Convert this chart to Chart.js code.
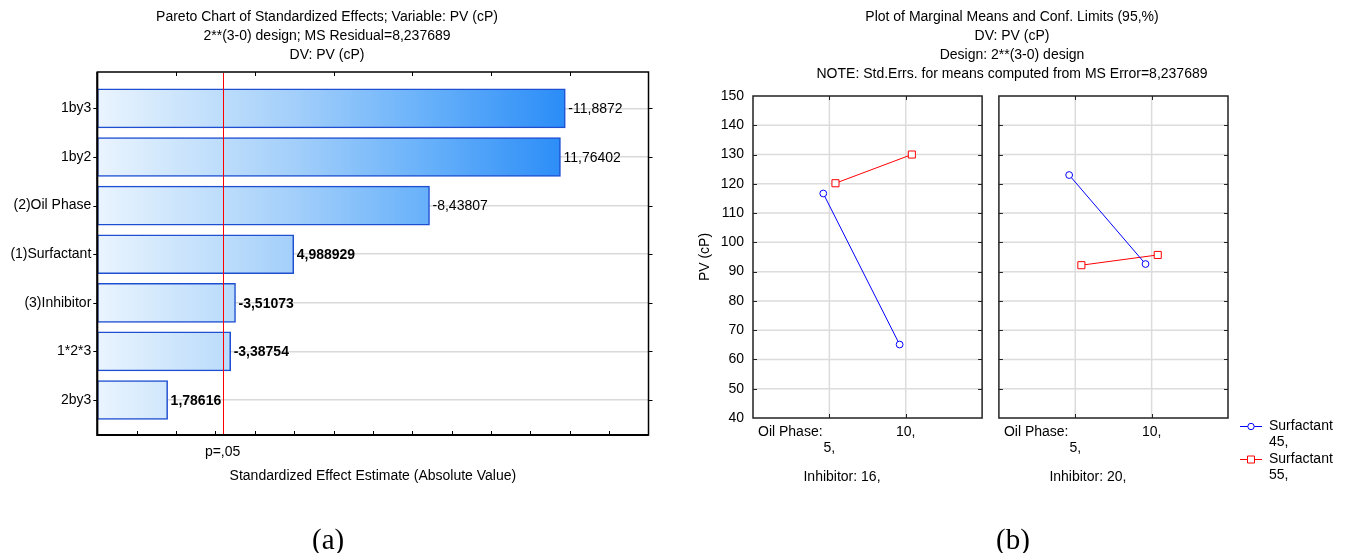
<!DOCTYPE html>
<html><head><meta charset="utf-8">
<script src="https://cdn.jsdelivr.net/npm/chart.js@4.4.1/dist/chart.umd.min.js"></script>
<style>
html,body{margin:0;padding:0;background:#fff;}
body{width:1348px;height:553px;position:relative;overflow:hidden;font-family:"Liberation Sans",Arial,sans-serif;}
canvas{position:absolute;top:0;}
#cL{left:0;}
#cR{left:674px;}
.cap{position:absolute;font-family:"Liberation Serif","Times New Roman",serif;font-size:29px;top:522px;line-height:34px;color:#000;}
</style></head><body>
<canvas id="cL" width="674" height="553"></canvas>
<canvas id="cR" width="674" height="553"></canvas>
<div class="cap" style="left:312px">(a)</div>
<div class="cap" style="left:996px">(b)</div>
<script>
// ---------- data: Pareto chart ----------
const effectLabels = ['1by3', '1by2', '(2)Oil Phase', '(1)Surfactant', '(3)Inhibitor', '1*2*3', '2by3'];
const effectValues = [-11.8872, 11.76402, -8.43807, 4.988929, -3.51073, -3.38754, 1.78616];
const effectBold = [false, false, false, true, true, true, true];
const pCritical = 3.182446;
const pCriticalLabel = 'p=,05';
const paretoTitle = ['Pareto Chart of Standardized Effects; Variable: PV (cP)', '2**(3-0) design; MS Residual=8,237689', 'DV: PV (cP)'];
const paretoXTitle = 'Standardized Effect Estimate (Absolute Value)';

// ---------- data: marginal means ----------
const oilPhaseLevels = ['5,', '10,'];
const inhibitorLevels = ['16,', '20,'];
const surfactantLevels = ['45,', '55,'];
const pvSurfactant45 = [[116.7, 65.1], [123.0, 92.6]]; // [inhibitor][oil phase]
const pvSurfactant55 = [[120.2, 130.0], [92.2, 95.7]];
const meansTitle = ['Plot of Marginal Means and Conf. Limits (95,%)', 'DV: PV (cP)', 'Design: 2**(3-0) design', 'NOTE: Std.Errs. for means computed from MS Error=8,237689'];
const meansYTitle = 'PV (cP)';

const FONT = '"Liberation Sans", Arial, sans-serif';
Chart.defaults.font.family = FONT;
Chart.defaults.font.size = 14;
Chart.defaults.color = '#000';

const fmt = v => String(v).replace('.', ',');

// ---------- Pareto chart ----------
const paretoPlugin = {
  id: 'pareto',
  afterDraw(chart) {
    const c = chart.ctx, a = chart.chartArea, xs = chart.scales.x, ys = chart.scales.y;
    c.save();
    // value labels
    c.fillStyle = '#000';
    c.textBaseline = 'middle';
    c.textAlign = 'left';
    effectValues.forEach((v, i) => {
      c.font = (effectBold[i] ? 'bold ' : '') + '14px ' + FONT;
      c.fillText(fmt(v), xs.getPixelForValue(Math.abs(v)) + 3, ys.getPixelForValue(i) + 1);
    });
    // ticks
    c.strokeStyle = '#000'; c.lineWidth = 1;
    c.beginPath();
    for (let t = 1; t < 14; t++) {
      const x = Math.round(xs.getPixelForValue(t)) + 0.5;
      c.moveTo(x, a.bottom); c.lineTo(x, a.bottom - 4);
      if (t % 2 === 0) { c.moveTo(x, a.top); c.lineTo(x, a.top + 4); }
    }
    for (let i = 0; i < effectLabels.length; i++) {
      const y = Math.round(ys.getPixelForValue(i)) + 0.5;
      c.moveTo(a.left - 4, y); c.lineTo(a.left, y);
      c.moveTo(a.right, y); c.lineTo(a.right + 4, y);
    }
    c.stroke();
    // frame
    c.lineWidth = 1.5;
    c.strokeRect(a.left, a.top, a.right - a.left, a.bottom - a.top);
    c.lineWidth = 2;
    c.beginPath();
    c.moveTo(a.left, a.top); c.lineTo(a.left, a.bottom); c.lineTo(a.right, a.bottom);
    c.stroke();
    // critical line
    const xp = Math.round(xs.getPixelForValue(pCritical));
    c.fillStyle = '#ff0000';
    c.fillRect(xp, a.top + 1, 1, a.bottom - a.top - 2);
    // texts
    c.fillStyle = '#000';
    c.font = '14px ' + FONT;
    c.textAlign = 'center';
    paretoTitle.forEach((t, i) => c.fillText(t, 327, 17 + i * 19));
    c.fillText(pCriticalLabel, xs.getPixelForValue(pCritical), 452);
    c.fillText(paretoXTitle, (a.left + a.right) / 2, 476);
    c.restore();
  }
};

function barGradient(ctx) {
  const chart = ctx.chart;
  if (!chart.chartArea) return '#9ecbfa';
  const xs = chart.scales.x;
  const x0 = xs.getPixelForValue(0), x1 = xs.getPixelForValue(11.9);
  const g = chart.ctx.createLinearGradient(x0, 0, x1, 0);
  g.addColorStop(0, '#eaf4fe');
  g.addColorStop(0.15, '#d0e7fc');
  g.addColorStop(0.42, '#a3cffa');
  g.addColorStop(0.71, '#66b0fa');
  g.addColorStop(1, '#2a8cf7');
  return g;
}

new Chart(document.getElementById('cL'), {
  type: 'bar',
  data: {
    datasets: [{
      data: effectValues.map((v, i) => ({ x: Math.abs(v), y: i })),
      backgroundColor: barGradient,
      borderColor: '#1f4fd1',
      borderWidth: 1.5,
      borderSkipped: false,
      barThickness: 39
    }]
  },
  options: {
    indexAxis: 'y',
    responsive: false,
    animation: false,
    events: [],
    layout: { padding: { left: 0, right: 25.5, top: 72, bottom: 118 } },
    plugins: { legend: { display: false }, tooltip: { enabled: false }, title: { display: false } },
    scales: {
      x: { type: 'linear', min: 0, max: 14, display: false, offset: false },
      y: {
        type: 'linear', min: -0.75, max: 6.72, reverse: true, offset: false,
        afterFit(s) { s.width = 97.3; },
        border: { display: false },
        grid: {
          offset: false, drawTicks: false, lineWidth: 1.5,
          color: c => Number.isInteger(c.tick && c.tick.value) ? '#d9d9d9' : 'rgba(0,0,0,0)'
        },
        ticks: {
          stepSize: 1, autoSkip: false, padding: 6, color: '#000',
          font: { size: 14 },
          callback: v => Number.isInteger(v) ? effectLabels[v] : ''
        }
      }
    }
  },
  plugins: [paretoPlugin]
});

// ---------- Marginal means chart ----------
const panelSpan = 3.22;   // width of one panel plus gap, in x units
const panelWidth = 3;
const dodge = 0.08;

function seriesPoints(values, sign) {
  const pts = [];
  values.forEach((row, p) => {
    row.forEach((v, i) => pts.push({ x: p * panelSpan + i + 1 + sign * dodge, y: v }));
    if (p < values.length - 1) pts.push({ x: p * panelSpan + panelWidth + 0.1, y: null });
  });
  return pts;
}

const meansPlugin = {
  id: 'means',
  beforeDatasetsDraw(chart) {
    const c = chart.ctx, a = chart.chartArea, xs = chart.scales.x, ys = chart.scales.y;
    c.save();
    c.strokeStyle = '#dcdcdc'; c.lineWidth = 1.5;
    inhibitorLevels.forEach((_, p) => {
      const l = xs.getPixelForValue(p * panelSpan), r = xs.getPixelForValue(p * panelSpan + panelWidth);
      c.beginPath();
      for (let v = 50; v < 150; v += 10) {
        const y = ys.getPixelForValue(v);
        c.moveTo(l, y); c.lineTo(r, y);
      }
      oilPhaseLevels.forEach((_, i) => {
        const x = xs.getPixelForValue(p * panelSpan + i + 1);
        c.moveTo(x, a.top); c.lineTo(x, a.bottom);
      });
      c.stroke();
    });
    c.restore();
  },
  afterDraw(chart) {
    const c = chart.ctx, a = chart.chartArea, xs = chart.scales.x, ys = chart.scales.y;
    c.save();
    inhibitorLevels.forEach((lev, p) => {
      const l = xs.getPixelForValue(p * panelSpan), r = xs.getPixelForValue(p * panelSpan + panelWidth);
      c.strokeStyle = '#222'; c.lineWidth = 1;
      c.beginPath();
      for (let v = 50; v < 150; v += 10) {
        const y = Math.round(ys.getPixelForValue(v)) + 0.5;
        c.moveTo(l, y); c.lineTo(l + 4, y);
        c.moveTo(r, y); c.lineTo(r - 4, y);
      }
      oilPhaseLevels.forEach((_, i) => {
        const x = Math.round(xs.getPixelForValue(p * panelSpan + i + 1)) + 0.5;
        c.moveTo(x, a.top); c.lineTo(x, a.top + 4);
        c.moveTo(x, a.bottom); c.lineTo(x, a.bottom - 4);
      });
      c.stroke();
      c.lineWidth = 1.5;
      c.strokeRect(l, a.top, r - l, a.bottom - a.top);
      // x labels
      c.fillStyle = '#000';
      c.font = '14px ' + FONT;
      c.textBaseline = 'middle';
      c.textAlign = 'left';
      c.fillText('Oil Phase:', l + 5, 432);
      c.textAlign = 'center';
      c.fillText(oilPhaseLevels[0], xs.getPixelForValue(p * panelSpan + 1), 448);
      c.fillText(oilPhaseLevels[1], xs.getPixelForValue(p * panelSpan + 2), 432);
      c.fillText('Inhibitor: ' + lev, l + 89, 477);
    });
    // titles
    c.textAlign = 'center';
    meansTitle.forEach((t, i) => c.fillText(t, 338, 17 + i * 19));
    // y title
    c.save();
    c.translate(31, (a.top + a.bottom) / 2);
    c.rotate(-Math.PI / 2);
    c.fillText(meansYTitle, 0, 0);
    c.restore();
    // legend
    const rows = [426, 459];
    chart.data.datasets.forEach((ds, k) => {
      const y = rows[k];
      c.strokeStyle = ds.borderColor; c.lineWidth = 1;
      c.beginPath(); c.moveTo(566, y + 0.5); c.lineTo(588, y + 0.5); c.stroke();
      c.fillStyle = '#fff';
      c.beginPath();
      if (ds.pointStyle === 'rect') { c.rect(573.5, y - 3, 7, 7); }
      else { c.arc(577, y + 0.5, 3.2, 0, Math.PI * 2); }
      c.fill(); c.stroke();
      c.fillStyle = '#000';
      c.textAlign = 'left';
      c.fillText('Surfactant', 595, y);
      c.fillText(surfactantLevels[k], 595, y + 16);
    });
    c.restore();
  }
};

new Chart(document.getElementById('cR'), {
  type: 'line',
  data: {
    datasets: [
      {
        label: 'Surfactant ' + surfactantLevels[0],
        data: seriesPoints(pvSurfactant45, -1),
        borderColor: '#0000ff', borderWidth: 1, spanGaps: false,
        pointStyle: 'circle', pointRadius: 3.4, pointBorderWidth: 1,
        pointBorderColor: '#0000ff', pointBackgroundColor: '#ffffff'
      },
      {
        label: 'Surfactant ' + surfactantLevels[1],
        data: seriesPoints(pvSurfactant55, 1),
        borderColor: '#ff0000', borderWidth: 1, spanGaps: false,
        pointStyle: 'rect', pointRadius: 5, pointBorderWidth: 1,
        pointBorderColor: '#ff0000', pointBackgroundColor: '#ffffff'
      }
    ]
  },
  options: {
    responsive: false,
    animation: false,
    events: [],
    layout: { padding: { left: 0, right: 120, top: 96, bottom: 135 } },
    plugins: { legend: { display: false }, tooltip: { enabled: false }, title: { display: false } },
    scales: {
      x: { type: 'linear', min: 0, max: panelSpan + panelWidth, display: false },
      y: {
        type: 'linear', min: 40, max: 150,
        afterFit(s) { s.width = 79; },
        border: { display: false },
        grid: { display: false, drawTicks: false },
        ticks: { stepSize: 10, padding: 9, color: '#000', font: { size: 14 } }
      }
    }
  },
  plugins: [meansPlugin]
});
</script>
</body></html>
